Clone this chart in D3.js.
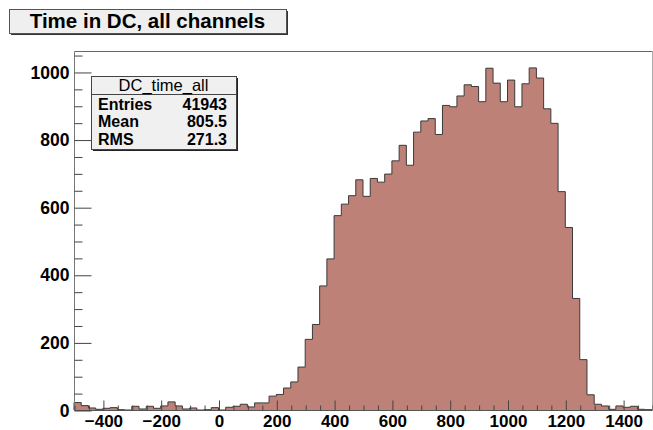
<!DOCTYPE html>
<html>
<head>
<meta charset="utf-8">
<script src="https://cdn.jsdelivr.net/npm/d3@7"></script>
<style>
html,body{margin:0;padding:0;background:#fff;}
svg{display:block;}
text{font-family:"Liberation Sans",Arial,Helvetica,sans-serif;font-weight:bold;fill:#000;}
</style>
</head>
<body>
<svg id="c" width="653" height="430"></svg>
<script>
// ---- data ----
const title = "Time in DC, all channels";
const histName = "DC_time_all";
const binLow = -500;
const binWidth = 25;
const counts = [
  22,13,6,2,5,7,1,0,11,3,
  11,5,12,24,12,3,6,0,1,7,
  0,8,11,17,9,21,21,41,46,65,
  83,127,209,253,367,447,575,609,634,681,
  632,685,674,698,737,783,724,822,855,862,
  815,901,897,929,962,957,912,1011,967,912,
  976,897,965,1012,982,891,848,646,540,330,
  149,45,17,12,2,12,8,11,2,1
];
const statLabels = ["Entries","Mean","RMS"];
const statValues = ["41943","805.5","271.3"];
const xMajorTicks = [-400,-200,0,200,400,600,800,1000,1200,1400];
const yMajorTicks = [0,200,400,600,800,1000];

// ---- layout ----
const svg = d3.select("#c");
const fx0 = 74, fx1 = 652, fy0 = 51, fy1 = 410;
const xMax = binLow + binWidth * counts.length;
const x = d3.scaleLinear().domain([binLow, xMax]).range([fx0, fx1]);
const y = d3.scaleLinear().domain([0, 1062]).range([fy1, fy0]);

const bins = counts.map((c, i) => ({x0: binLow + i * binWidth, v: c}));
const pts = bins.map(b => [b.x0, b.v]);
pts.push([xMax, counts[counts.length - 1]]);

// fill
const area = d3.area()
  .x(d => x(d[0])).y0(y(0)).y1(d => y(d[1]))
  .curve(d3.curveStepAfter);
svg.append("path").datum(pts)
  .attr("d", area)
  .attr("fill", "#bd8177");

// outline
const outlinePts = [[binLow, 0]];
bins.forEach(b => { outlinePts.push([b.x0, b.v]); outlinePts.push([b.x0 + binWidth, b.v]); });
outlinePts.push([xMax, 0]);
svg.append("path").datum(outlinePts)
  .attr("d", d3.line().x(d => x(d[0])).y(d => y(d[1])))
  .attr("fill", "none").attr("stroke", "#3a3a3a").attr("stroke-width", 1);

// frame
svg.append("line").attr("x1", fx0 + 0.5).attr("x2", fx1 + 0.5).attr("y1", fy0 + 0.5).attr("y2", fy0 + 0.5).attr("stroke", "#666");
svg.append("line").attr("x1", fx0 + 0.5).attr("x2", fx0 + 0.5).attr("y1", fy0 + 0.5).attr("y2", fy1 + 0.5).attr("stroke", "#777");
svg.append("line").attr("x1", fx1 + 0.5).attr("x2", fx1 + 0.5).attr("y1", fy0 + 0.5).attr("y2", fy1 + 0.5).attr("stroke", "#aaa");
svg.append("line").attr("x1", fx0 + 0.5).attr("x2", fx1 + 0.5).attr("y1", fy1 + 0.5).attr("y2", fy1 + 0.5).attr("stroke", "#555");

// x axis: minor ticks then majors with labels
const xMinor = d3.range(-500, 1501, 50).filter(v => !xMajorTicks.includes(v));
const xMinAx = d3.axisBottom(x).tickValues(xMinor).tickSize(-5).tickFormat("");
const gxm = svg.append("g").attr("transform", `translate(0.5,${fy1 + 0.5})`).call(xMinAx);
gxm.select(".domain").remove();
gxm.selectAll("line").attr("stroke", "#444");

const xAx = d3.axisBottom(x).tickValues(xMajorTicks).tickSize(-10).tickPadding(4).tickFormat(d3.format("d"));
const gx = svg.append("g").attr("transform", `translate(0.5,${fy1 + 0.5})`).call(xAx);
gx.select(".domain").remove();
gx.selectAll("line").attr("stroke", "#444");
gx.selectAll("text").style("font-size", "17px").attr("fill", "#000");

// y axis
const yMinor = d3.range(0, 1051, 50).filter(v => !yMajorTicks.includes(v));
const yMinAx = d3.axisLeft(y).tickValues(yMinor).tickSize(-8).tickFormat("");
const gym = svg.append("g").attr("transform", `translate(${fx0 + 0.5},0.5)`).call(yMinAx);
gym.select(".domain").remove();
gym.selectAll("line").attr("stroke", "#444");

const yAx = d3.axisLeft(y).tickValues(yMajorTicks).tickSize(-17).tickPadding(5).tickFormat(d3.format("d"));
const gy = svg.append("g").attr("transform", `translate(${fx0 + 0.5},0.5)`).call(yAx);
gy.select(".domain").remove();
gy.selectAll("line").attr("stroke", "#444");
gy.selectAll("text").style("font-size", "17.5px").attr("fill", "#000");

// title box
const tb = {x: 9, y: 9, w: 277, h: 24};
svg.append("rect").attr("x", tb.x + 2).attr("y", tb.y + 2).attr("width", tb.w).attr("height", tb.h).attr("fill", "#333");
svg.append("rect").attr("x", tb.x + 0.5).attr("y", tb.y + 0.5).attr("width", tb.w).attr("height", tb.h)
  .attr("fill", "#efefef").attr("stroke", "#555").attr("stroke-width", 1);
svg.append("text").attr("x", tb.x + tb.w / 2).attr("y", tb.y + 19).attr("text-anchor", "middle")
  .style("font-size", "20.5px").text(title);

// stats box
const sb = {x: 91, y: 76, w: 145, h: 73};
svg.append("rect").attr("x", sb.x + 2).attr("y", sb.y + 2).attr("width", sb.w).attr("height", sb.h).attr("fill", "#222");
svg.append("rect").attr("x", sb.x + 0.5).attr("y", sb.y + 0.5).attr("width", sb.w).attr("height", sb.h)
  .attr("fill", "#f0f0f0").attr("stroke", "#444").attr("stroke-width", 1);
svg.append("line").attr("x1", sb.x).attr("x2", sb.x + sb.w).attr("y1", sb.y + 18.5).attr("y2", sb.y + 18.5)
  .attr("stroke", "#444");
svg.append("text").attr("x", sb.x + sb.w / 2).attr("y", sb.y + 14.5).attr("text-anchor", "middle")
  .style("font-size", "16.5px").style("font-weight", "normal").text(histName);
statLabels.forEach((l, i) => {
  const ty = sb.y + 33.5 + i * 17.6;
  svg.append("text").attr("x", sb.x + 7).attr("y", ty).style("font-size", "16px").text(l);
  svg.append("text").attr("x", sb.x + sb.w - 9).attr("y", ty).attr("text-anchor", "end")
    .style("font-size", "16px").text(statValues[i]);
});
</script>
</body>
</html>
